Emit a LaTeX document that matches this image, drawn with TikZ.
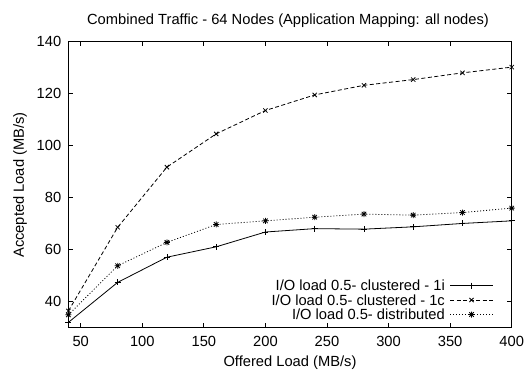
\documentclass[tikz,border=0pt]{standalone}
\usepackage{fontspec}
\setmainfont{Liberation Sans}
\usetikzlibrary{plotmarks}

% gnuplot point type 3: a plus and a cross laid over each other
\pgfdeclareplotmark{gpstar}{%
  \pgfpathmoveto{\pgfqpoint{-\pgfplotmarksize}{0pt}}%
  \pgfpathlineto{\pgfqpoint{\pgfplotmarksize}{0pt}}%
  \pgfpathmoveto{\pgfqpoint{0pt}{-\pgfplotmarksize}}%
  \pgfpathlineto{\pgfqpoint{0pt}{\pgfplotmarksize}}%
  \pgfpathmoveto{\pgfqpoint{-.75\pgfplotmarksize}{-.75\pgfplotmarksize}}%
  \pgfpathlineto{\pgfqpoint{.75\pgfplotmarksize}{.75\pgfplotmarksize}}%
  \pgfpathmoveto{\pgfqpoint{-.75\pgfplotmarksize}{.75\pgfplotmarksize}}%
  \pgfpathlineto{\pgfqpoint{.75\pgfplotmarksize}{-.75\pgfplotmarksize}}%
  \pgfusepathqstroke}

\begin{document}
\begin{tikzpicture}[x=1pt,y=1pt,
  txt/.style={font=\fontsize{14.7}{17}\selectfont, inner sep=0pt},
  frame/.style={line width=0.8pt},
  tickmark/.style={line width=0.8pt},
  seriesI/.style={line width=0.8pt, mark=+, mark size=3pt, mark options={solid}},
  seriesC/.style={line width=0.8pt, dash pattern=on 4pt off 2.5pt, mark=x, mark size=3pt, mark options={solid}},
  seriesD/.style={line width=0.8pt, dash pattern=on 1pt off 2pt, mark=gpstar, mark size=3pt, mark options={solid}},
]
\useasboundingbox (0,0) rectangle (526,373);

% title and axis labels
\node[txt] (title) at (288,352.3) {Combined Traffic - 64 Nodes (Application Mapping: all nodes)};
\node[txt] (xlabel) at (290,10) {Offered Load (MB/s)};
\node[txt, rotate=90] (ylabel) at (20,188) {Accepted Load (MB/s)};

% data area: 40..400 on x, 30..140 on y
\begin{scope}[shift={(19.144pt,-32.19pt)}, x=1.2314pt, y=2.5964pt]
  \coordinate (ll) at (40,30);
  \coordinate (ur) at (400,140);
  \draw[frame] (ll) rectangle (ur);

  % x ticks (bottom and top) with labels
  \foreach \v in {50,100,...,400} {
    \coordinate (xb\v) at (\v,30);
    \coordinate (xt\v) at (\v,140);
    \draw[tickmark] (xb\v) -- ++(0,4.5pt);
    \draw[tickmark] (xt\v) -- ++(0,-4.5pt);
    \node[txt, anchor=base] (xl\v) at ([yshift=-19pt]xb\v) {\v};
  }
  % y ticks (left and right) with labels
  \foreach \v in {40,60,...,140} {
    \coordinate (yl\v) at (40,\v);
    \coordinate (yr\v) at (400,\v);
    \draw[tickmark] (yl\v) -- ++(4.5pt,0);
    \draw[tickmark] (yr\v) -- ++(-4.5pt,0);
    \node[txt, anchor=east] (ytl\v) at ([xshift=-7pt]yl\v) {\v};
  }

  % series
  \draw[seriesI] plot coordinates {(40,31.9) (80,47.3) (120,57.0) (160,61.0) (200,66.7)
    (240,68.0) (280,67.8) (320,68.7) (360,70.0) (400,71.0)};
  \draw[seriesC] plot coordinates {(40,36.3) (80,68.5) (120,91.7) (160,104.5) (200,113.5)
    (240,119.5) (280,123.2) (320,125.4) (360,128.0) (400,130.2)};
  \draw[seriesD] plot coordinates {(40,34.8) (80,53.7) (120,62.7) (160,69.6) (200,71.0)
    (240,72.4) (280,73.6) (320,73.2) (360,74.2) (400,75.9)};
\end{scope}

% key
\node[txt, anchor=east] (k1) at (445,87.5) {I/O load 0.5- clustered - 1i};
\node[txt, anchor=east] (k2) at (445,73) {I/O load 0.5- clustered - 1c};
\node[txt, anchor=east] (k3) at (445,58.5) {I/O load 0.5- distributed};
\coordinate (k1a) at (450,87.5); \coordinate (k1b) at (493,87.5);
\coordinate (k2a) at (450,73);   \coordinate (k2b) at (493,73);
\coordinate (k3a) at (450,58.5); \coordinate (k3b) at (493,58.5);
\draw[seriesI, mark indices={2}] plot coordinates {(k1a) (471.5,87.5) (k1b)};
\draw[seriesC, mark indices={2}] plot coordinates {(k2a) (471.5,73) (k2b)};
\draw[seriesD, mark indices={2}] plot coordinates {(k3a) (471.5,58.5) (k3b)};
\end{tikzpicture}
\end{document}
